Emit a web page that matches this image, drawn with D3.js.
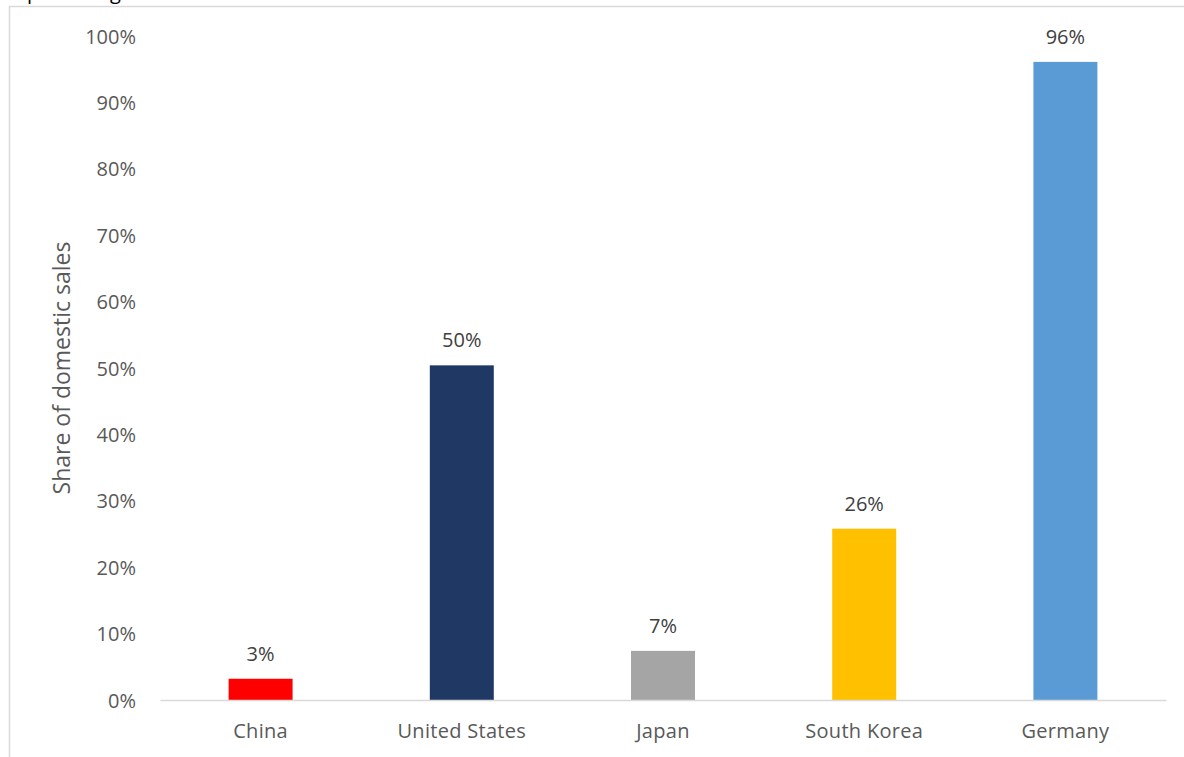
<!DOCTYPE html>
<html>
<head>
<meta charset="utf-8">
<script src="https://cdn.jsdelivr.net/npm/d3@7"></script>
<style>
  html, body { margin: 0; padding: 0; background: #fff; }
  svg { display: block; }
  text { font-family: "Open Sans", Lato, sans-serif; fill: #595959; }
</style>
</head>
<body>
<svg id="chart" width="1184" height="757"></svg>
<script>
// Share of domestic sales by country
const countries = ["China", "United States", "Japan", "South Korea", "Germany"];
const shares = [0.032, 0.504, 0.074, 0.258, 0.961];
const barColors = ["#ff0000", "#203864", "#a5a5a5", "#ffc000", "#5b9bd5"];
const yTicks = [0, 0.1, 0.2, 0.3, 0.4, 0.5, 0.6, 0.7, 0.8, 0.9, 1.0];

const svg = d3.select("#chart");
const W = 1184, H = 757;
const plot = { left: 160, right: 1166, top: 36, bottom: 700 };
const FONT = '"Open Sans", Lato, sans-serif';

// outer chart frame
svg.append("rect")
  .attr("x", 9.5).attr("y", 6.5)
  .attr("width", W + 20).attr("height", H + 20)
  .attr("fill", "none")
  .attr("stroke", "#d9d9d9")
  .attr("stroke-width", 1.5);

// caption above the frame (runs off the top edge)
svg.append("text")
  .attr("x", 27).attr("y", -1)
  .style("fill", "#000")
  .style("font-size", "20px")
  .text("percentage");

const x = d3.scaleBand()
  .domain(countries)
  .range([plot.left, plot.right])
  .paddingInner(0.682)
  .paddingOuter(0.341);

const y = d3.scaleLinear()
  .domain([0, 1])
  .range([plot.bottom, plot.top]);

// y axis tick labels (no axis line, no gridlines)
const yAxis = d3.axisLeft(y)
  .tickValues(yTicks)
  .tickFormat(d3.format(".0%"))
  .tickSize(0)
  .tickPadding(0);
const gy = svg.append("g")
  .attr("transform", `translate(136,0)`)
  .call(yAxis);
gy.select(".domain").remove();
gy.selectAll("text")
  .attr("dy", "0.35em")
  .style("font-size", "20px")
  .style("fill", "#595959")
  .style("font-family", FONT);

// bars
svg.append("g").selectAll("rect")
  .data(countries)
  .join("rect")
  .attr("x", d => x(d))
  .attr("width", x.bandwidth())
  .attr("y", (d, i) => y(shares[i]))
  .attr("height", (d, i) => y(0) - y(shares[i]))
  .attr("fill", (d, i) => barColors[i]);

// category axis baseline and labels
const xAxis = d3.axisBottom(x).tickSize(0).tickPadding(0);
const gx = svg.append("g")
  .attr("transform", `translate(0,${plot.bottom})`)
  .call(xAxis);
gx.select(".domain")
  .attr("stroke", "#d9d9d9")
  .attr("stroke-width", 1.5);
gx.selectAll("text")
  .attr("y", 31)
  .attr("dy", "0.35em")
  .style("font-size", "20px")
  .style("letter-spacing", "0.3px")
  .style("fill", "#595959")
  .style("font-family", FONT);

// value labels above bars
svg.append("g").selectAll("text")
  .data(countries)
  .join("text")
  .attr("x", d => x(d) + x.bandwidth() / 2)
  .attr("y", (d, i) => y(shares[i]) - 25)
  .attr("dy", "0.35em")
  .attr("text-anchor", "middle")
  .style("font-size", "20px")
  .style("fill", "#404040")
  .text((d, i) => d3.format(".0%")(shares[i]));

// y axis title
svg.append("text")
  .attr("transform", `translate(62,${(plot.top + plot.bottom) / 2}) rotate(-90)`)
  .attr("text-anchor", "middle")
  .attr("dy", "0.35em")
  .style("font-size", "23px")
  .style("fill", "#595959")
  .text("Share of domestic sales");
</script>
</body>
</html>
